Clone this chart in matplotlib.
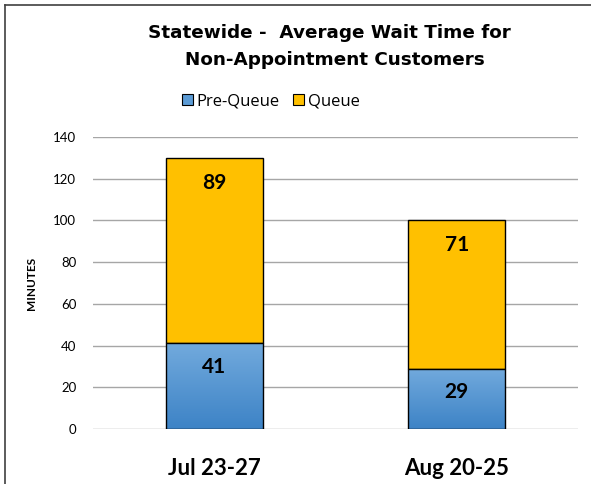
import matplotlib
matplotlib.use("Agg")
import matplotlib.pyplot as plt
import numpy as np
from matplotlib.lines import Line2D
from matplotlib.patches import Patch

categories = ["Jul 23-27", "Aug 20-25"]
pre_queue = [41, 29]
queue = [89, 71]
series_names = ["Pre-Queue", "Queue"]
yticks = [0, 20, 40, 60, 80, 100, 120, 140]

plt.rcParams['font.family'] = ['Lato', 'DejaVu Sans']

fig = plt.figure(figsize=(5.91, 4.84), dpi=100)
ax = fig.add_axes([93/591, 1-429/484, (578-93)/591, (429-137)/484])

x = np.arange(len(categories))
w = 0.4
blue_top = np.array([0x72, 0xaa, 0xdd]) / 255
blue_bot = np.array([0x3d, 0x83, 0xc6]) / 255
gold = "#ffc000"

bars_pre = ax.bar(x, pre_queue, w, color="#5b9bd5", edgecolor="black", linewidth=1, zorder=3)
bars_q = ax.bar(x, queue, w, bottom=pre_queue, color=gold, edgecolor="black", linewidth=1, zorder=3)

# gradient fill for pre-queue bars
grad = np.linspace(0, 1, 256)[:, None, None]
img = blue_top[None, None, :] * (1 - grad) + blue_bot[None, None, :] * grad
for b in bars_pre:
    x0, y0 = b.get_x(), b.get_y()
    im = ax.imshow(img, extent=[x0, x0 + b.get_width(), y0, y0 + b.get_height()],
                   origin="upper", aspect="auto", zorder=3.5)
    im.set_clip_path(b)
    b.set_facecolor("none")
    b.set_zorder(4)

for i in range(len(categories)):
    ax.text(x[i], pre_queue[i] - 11.5, str(pre_queue[i]), ha="center", va="center",
            fontsize=15, fontweight="bold", zorder=5)
    ax.text(x[i], pre_queue[i] + queue[i] - 12, str(queue[i]), ha="center", va="center",
            fontsize=15, fontweight="bold", zorder=5)

ax.set_xlim(-0.5, 1.5)
ax.set_ylim(0, 140)
ax.set_yticks(yticks)
ax.set_xticks(x)
ax.set_xticklabels(categories, fontsize=16, fontweight="bold")
ax.tick_params(axis="y", length=0, labelsize=9.5, pad=12)
ax.tick_params(axis="x", length=0, pad=21)
ax.grid(axis="y", color="#a6a6a6", linewidth=1, zorder=0)
for s in ax.spines.values():
    s.set_visible(False)
ax.set_ylabel("MINUTES", fontsize=8.5, fontweight="bold", labelpad=12)

fig.text(329/591, 1-33/484, "Statewide -  Average Wait Time for", ha="center", va="center",
         fontsize=13.2, fontweight="bold", family=["DejaVu Sans"])
fig.text(335/591, 1-60/484, "Non-Appointment Customers", ha="center", va="center",
         fontsize=13.2, fontweight="bold", family=["DejaVu Sans"])

handles = [Patch(facecolor="#5b9bd5", edgecolor="black", linewidth=0.8),
           Patch(facecolor=gold, edgecolor="black", linewidth=0.8)]
fig.legend(handles, series_names, loc="center", bbox_to_anchor=(271/591, 1-101/484),
           ncol=2, frameon=False, prop={"family": "Open Sans", "size": 12},
           handlelength=0.65, handleheight=0.65,
           handletextpad=0.25, columnspacing=0.8)

fig.add_artist(Line2D([5/591, 5/591], [0, 1-5/484], transform=fig.transFigure, color="#404040", linewidth=1.2))
fig.add_artist(Line2D([5/591, 1], [1-5/484, 1-5/484], transform=fig.transFigure, color="#404040", linewidth=1.2))

fig.savefig("out.png", dpi=100)
